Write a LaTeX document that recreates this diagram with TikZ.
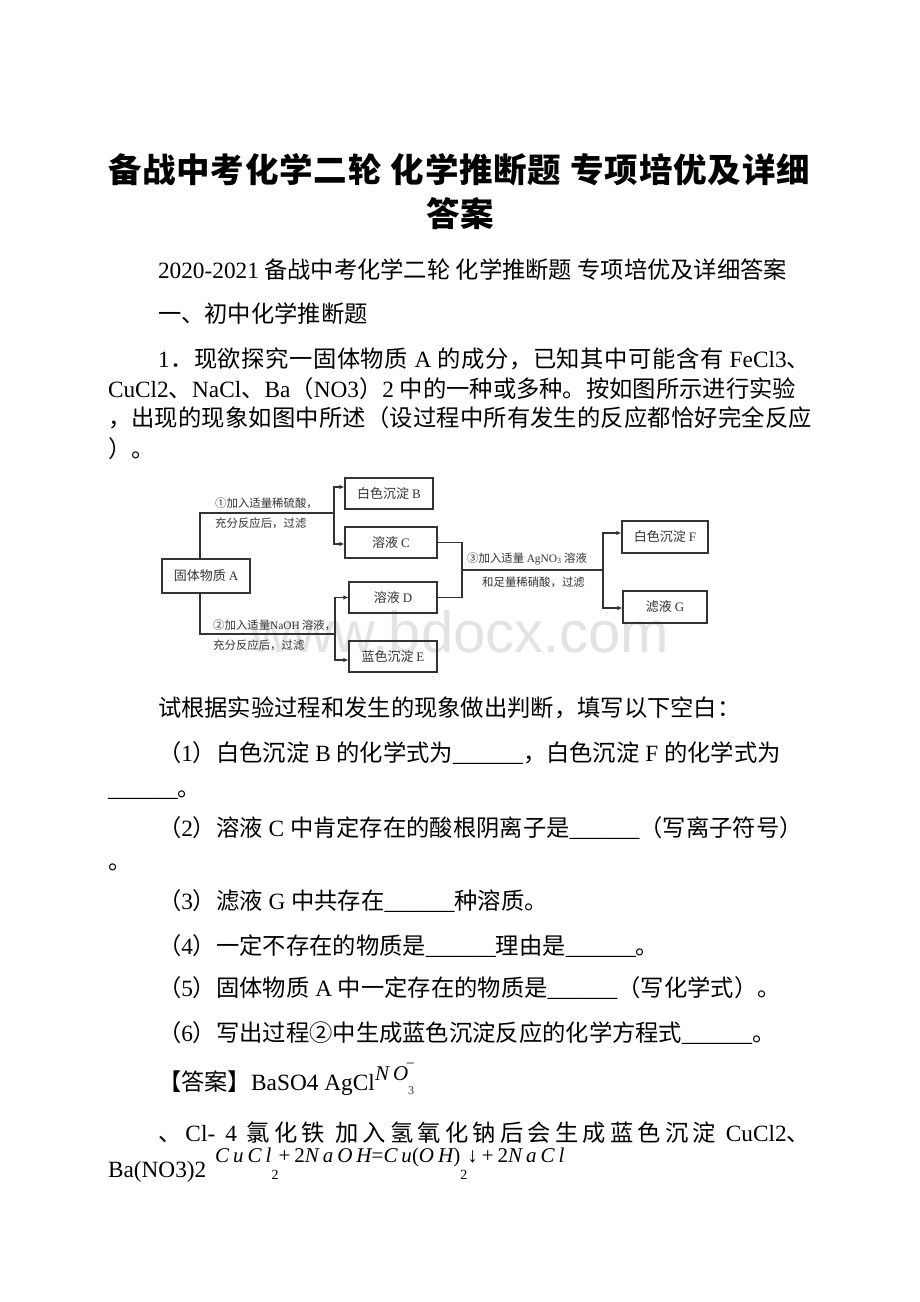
\documentclass[tikz,border=0pt]{standalone}
\usepackage{fontspec}
\usetikzlibrary{arrows.meta}
\setmainfont{Noto Sans CJK SC}
\newfontfamily\tnr{Liberation Serif}
\newfontfamily\eqfont{Liberation Serif}[LetterSpace=19]
\newfontfamily\wmfont{Liberation Sans}
\newcommand\T[1]{{\tnr #1}}
\newcommand\U{\T{\_\_\_\_\_\_}}
\newcommand\s{\hspace{0.25em}}
\def\spc#1{\spcA#1\relax}
\def\spcA#1{\ifx\relax#1\else#1\hfil\expandafter\spcA\fi}
\newcommand\J[2]{\hbox to #1pt{#2}}
\newcommand\bodyf{\fontsize{23.3}{28}\selectfont}
\newcommand\titlef{\fontsize{33.5}{40}\selectfont\bfseries}
\newcommand\boxf{\fontsize{13}{15}\selectfont}
\newcommand\labf{\fontsize{11.4}{13}\selectfont}
\newcommand\sbx[1]{\raisebox{-17pt}{\upshape\fontsize{14}{14}\selectfont #1}}
\definecolor{dgray}{HTML}{333333}
\definecolor{wm}{HTML}{E3E3E3}
\begin{document}
\begin{tikzpicture}[x=1pt,y=-1pt,
  txt/.style={anchor=base west,inner sep=0pt,outer sep=0pt,font=\bodyf},
  bx/.style={draw=dgray,line width=1.2pt,minimum height=31pt,inner sep=0pt,font=\boxf,text=dgray},
  lab/.style={anchor=base west,inner sep=0pt,font=\labf,text=dgray},
  con/.style={draw=dgray,line width=1.2pt},
  arr/.style={con,-{Latex[length=5pt,width=4.5pt]}}]
\fill[white] (0,0) rectangle (920,1302);
\useasboundingbox (0,0) rectangle (920,1302);

% title
\node[anchor=base,inner sep=0pt,font=\titlef] (ti1) at (459,182) {\J{702}{\spc{备战中考化学二轮}\hspace{0.25em}\spc{化学推断题}\hspace{0.25em}\spc{专项培优及详}细}};
\node[anchor=base,inner sep=0pt,font=\titlef] (ti2) at (460,226) {答案};

\node[txt] (l1) at (158,278) {\T{2020-2021} 备战中考化学二轮 化学推断题 专项培优及详细答案};
\node[txt] (l2) at (158,322) {一、初中化学推断题};
\node[txt] (l3) at (158,367) {\J{652}{\T{1}\hfil\spc{．现欲探究一固体物质}\s{}\T{A}\s{}\hfil\spc{的成分，已知其中可能含有}\s{}\T{FeCl3}、}};
\node[txt] (l4) at (108,397) {\T{CuCl2}、\T{NaCl}、\T{Ba}（\T{NO3}）\T{2}\s{}中的一种或多种。按如图所示进行实验};
\node[txt] (l5) at (108,426) {\J{704}{\spc{，出现的现象如图中所述（设过程中所有发生的反应都恰好完全反}应}};
\node[txt] (l6) at (108,457) {）。};

% watermark
\node[anchor=base west,inner sep=0pt,font=\wmfont\fontsize{58}{60}\selectfont,text=wm] (wmk) at (250,652) {www.bdocx.com};

% diagram
\node[bx,minimum width=88pt,minimum height=34pt] (A) at (206,576) {固体物质 \T{A}};
\node[bx,minimum width=88pt] (B) at (389,493.5) {白色沉淀 \T{B}};
\node[bx,minimum width=92pt] (C) at (391,542.5) {溶液 \T{C}};
\node[bx,minimum width=88pt] (D) at (393,597.5) {溶液 \T{D}};
\node[bx,minimum width=88pt] (E) at (393,656.5) {蓝色沉淀 \T{E}};
\node[bx,minimum width=86pt,minimum height=32pt] (F) at (665,537) {白色沉淀 \T{F}};
\node[bx,minimum width=84pt,minimum height=32pt] (G) at (665,607) {滤液 \T{G}};

\coordinate (s1) at (200,513);
\coordinate (j1) at (334,513);
\coordinate (s2) at (200,634);
\coordinate (j2) at (335,634);
\coordinate (m1) at (462,570);
\coordinate (j3) at (603,570);

\draw[con] (A.north -| s1) -- (s1) -- (j1);
\draw[arr] (j1) |- ([yshift=6.5pt]B.west);
\draw[arr] (j1) |- ([yshift=-1.5pt]C.west);
\draw[con] (A.south -| s2) -- (s2) -- (j2);
\draw[arr] (j2) |- (D.west);
\draw[arr] (j2) |- ([yshift=-3.5pt]E.west);
\draw[con] (C.east) -| (m1);
\draw[con] (D.east) -| (m1);
\draw[con] (m1) -- (j3);
\draw[arr] (j3) |- ([yshift=4pt]F.west);
\draw[arr] (j3) |- ([yshift=-1pt]G.west);

\node[lab] (la1) at (215,507) {①加入适量稀硫酸，};
\node[lab] (la2) at (215,527) {充分反应后，过滤};
\node[lab] (la3) at (213,629) {②加入适量\T{NaOH}\,溶液，};
\node[lab] (la4) at (213,649) {充分反应后，过滤};
\node[lab] (la5) at (467,562) {③加入适量 \T{AgNO\textsubscript{3}} 溶液};
\node[lab] (la6) at (482,586) {和足量稀硝酸，过滤};

% questions
\node[txt] (q0) at (158,716) {试根据实验过程和发生的现象做出判断，填写以下空白：};
\node[txt] (q1) at (158,761) {（\T{1}）白色沉淀\s{}\T{B}\s{}的化学式为\U{}，白色沉淀\s{}\T{F}\s{}的化学式为};
\node[txt] (q1b) at (108,796) {\U{}。};
\node[txt] (q2) at (158,836) {（\T{2}）溶液\s{}\T{C}\s{}中肯定存在的酸根阴离子是\U{}（写离子符号）};
\node[txt] (q2b) at (108,869) {。};
\node[txt] (q3) at (158,909) {（\T{3}）滤液\s{}\T{G}\s{}中共存在\U{}种溶质。};
\node[txt] (q4) at (158,954) {（\T{4}）一定不存在的物质是\U{}理由是\U{}。};
\node[txt] (q5) at (158,996) {（\T{5}）固体物质\s{}\T{A}\s{}中一定存在的物质是\U{}（写化学式）。};
\node[txt] (q6) at (158,1041) {（\T{6}）写出过程②中生成蓝色沉淀反应的化学方程式\U{}。};

% answer
\node[txt] (an1) at (158,1090) {【答案】\T{BaSO4 AgCl}};
\node[anchor=base west,inner sep=0pt,font=\fontsize{21}{22}\selectfont] (no) at (375,1080) {\eqfont\itshape NO};
\node[anchor=base west,inner sep=0pt,font=\fontsize{15}{15}\selectfont] (nom) at (406,1068) {\T{−}};
\node[anchor=base west,inner sep=0pt,font=\fontsize{12}{12}\selectfont,text=dgray] (no3) at (408,1094) {\T{3}};
\node[txt] (an2) at (158,1141) {\J{652}{\spc{、}\T{Cl-}\s{}\hfil\T{4}\s{}\hfil\spc{氯化铁}\s{}\spc{加入氢氧化钠后会生成蓝色沉淀}\s{}\T{CuCl2}、}};
\node[txt] (an3) at (108,1177) {\T{Ba(NO3)2}};
\node[anchor=base west,inner sep=0pt,font=\fontsize{21}{22}\selectfont] (eq) at (215,1162) {\eqfont{\itshape CuCl}\sbx{2}{\upshape +2}{\itshape NaOH}{\upshape =}{\itshape Cu}{\upshape (}{\itshape OH}{\upshape )}\sbx{2}{\upshape ↓+2}{\itshape NaCl}};
\end{tikzpicture}
\end{document}
